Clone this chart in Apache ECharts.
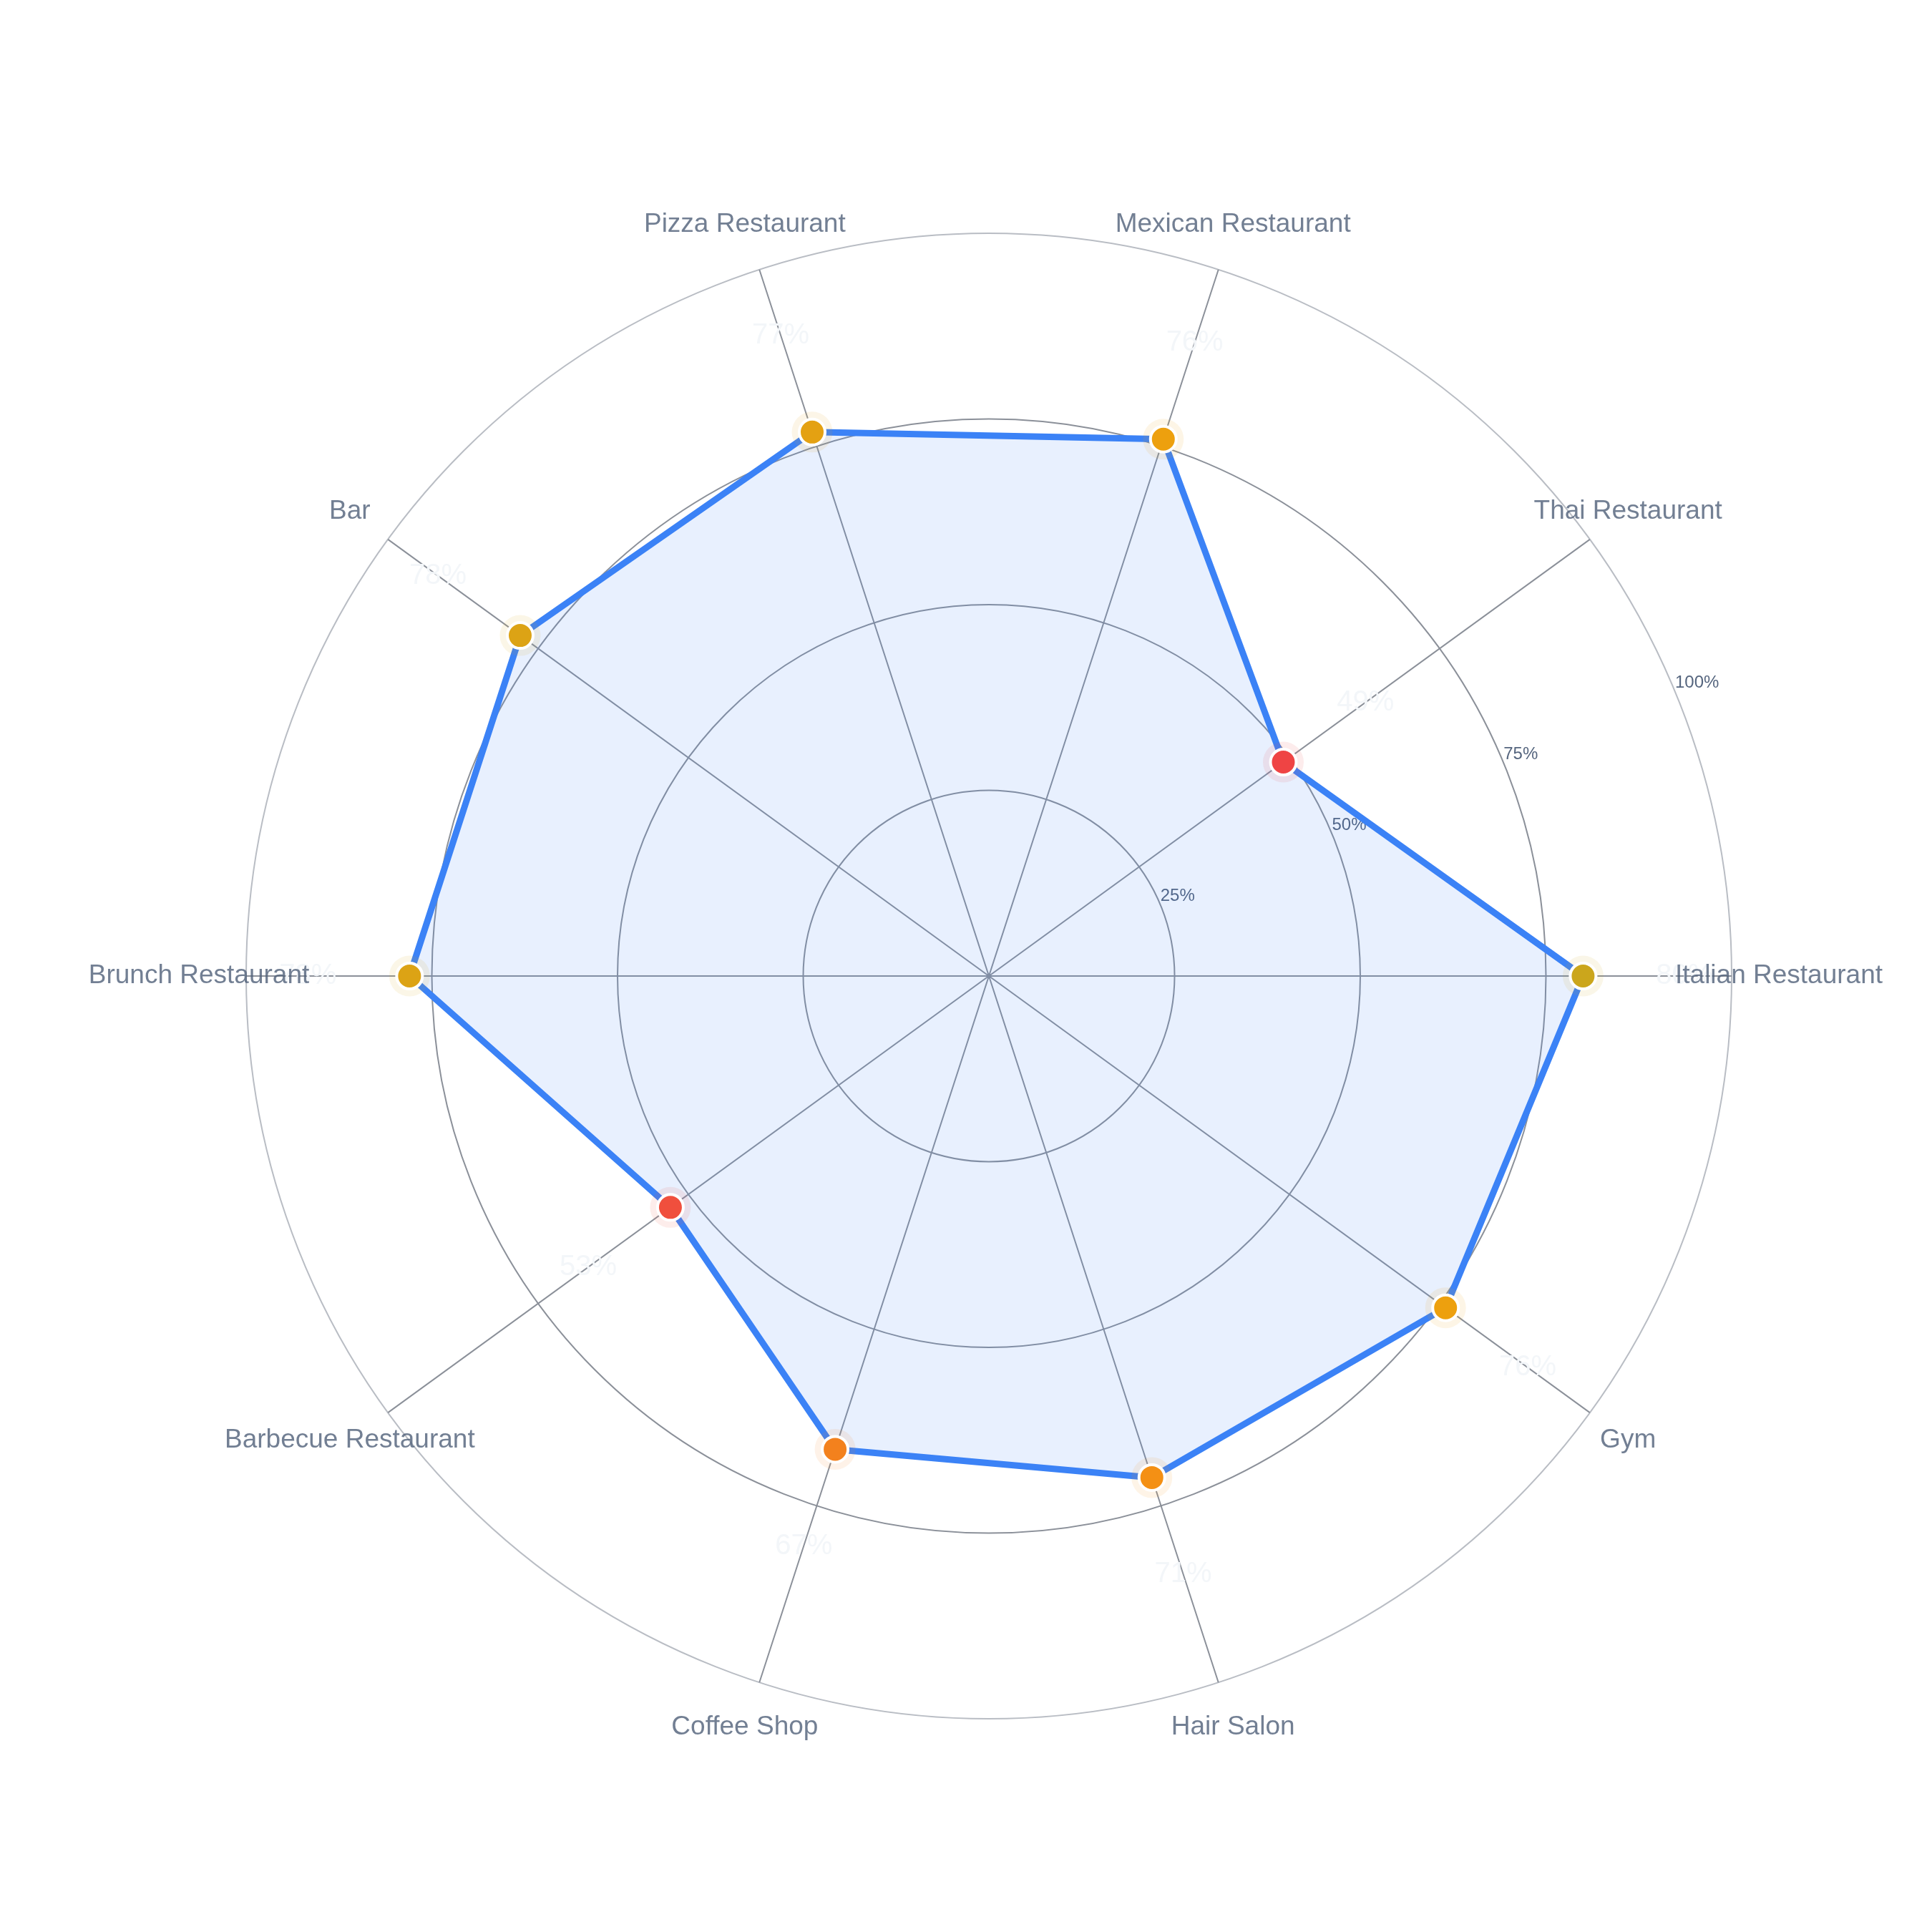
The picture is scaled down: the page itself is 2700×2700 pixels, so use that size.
<!DOCTYPE html>
<html>
<head>
<meta charset="utf-8">
<title>Category score radar</title>
<script src="https://cdn.jsdelivr.net/npm/echarts@6/dist/echarts.min.js"></script>
<style>
  html, body { margin: 0; padding: 0; background: #ffffff; }
  #chart { width: 2700px; height: 2700px; }
</style>
</head>
<body>
<div id="chart"></div>
<script>
// data, counter-clockwise from 3 o'clock
const categories = ['Italian Restaurant', 'Thai Restaurant', 'Mexican Restaurant', 'Pizza Restaurant', 'Bar',
  'Brunch Restaurant', 'Barbecue Restaurant', 'Coffee Shop', 'Hair Salon', 'Gym']
const values = [80, 49, 76, 77, 78, 78, 53, 67, 71, 76]
const radialTicks = [25, 50, 75, 100]

const FONT = '"Liberation Sans", Arial, sans-serif'
const CENTER = [1382, 1364]
const RADIUS = 1038
const step = 360 / categories.length
const labelGap = 142 // px, value label pushed outwards from its marker

// [radius, angle] pairs, first point repeated to close the outline
const linePoints = values.map((v, i) => [v, i * step])
linePoints.push([values[0], 360])

const markerPoints = values.map((v, i) => {
  const a = i * step * Math.PI / 180
  return {
    value: [v, i * step],
    label: { offset: [labelGap * Math.cos(a), -labelGap * Math.sin(a)] }
  }
})

// category names sit centred on a ring just outside the grid (polar 2)
const namePoints = categories.map((c, i) => ({ name: c, value: [100, i * step] }))

const hiddenAngle = (idx, start) => ({
  polarIndex: idx,
  type: 'value',
  min: 0,
  max: 360,
  startAngle: start,
  clockwise: false,
  axisLine: { show: false },
  axisTick: { show: false },
  axisLabel: { show: false },
  splitLine: { show: false }
})

const chart = echarts.init(document.getElementById('chart'))

const option = {
  backgroundColor: '#ffffff',
  animation: false,
  polar: [
    { center: CENTER, radius: RADIUS },
    { center: CENTER, radius: RADIUS },
    { center: CENTER, radius: 1104 }
  ],
  angleAxis: [
    {
      polarIndex: 0,
      type: 'value',
      min: 0,
      max: 360,
      interval: step,
      startAngle: 0,
      clockwise: false,
      axisLine: { show: false },
      axisTick: { show: false },
      axisLabel: { show: false },
      splitLine: { show: true, lineStyle: { color: '#8b9099', width: 2 } }
    },
    // tick labels run along the 22.5 degree line
    hiddenAngle(1, 22.5),
    hiddenAngle(2, 0)
  ],
  radiusAxis: [
    {
      polarIndex: 0,
      min: 0,
      max: 100,
      interval: 25,
      axisLine: { show: false },
      axisTick: { show: false },
      axisLabel: { show: false },
      splitLine: {
        show: true,
        lineStyle: { color: ['#8b9099', '#8b9099', '#8b9099', '#8b9099', '#b9bdc4'], width: 2 }
      }
    },
    {
      polarIndex: 1,
      min: 0,
      max: 100,
      interval: 25,
      axisLine: { show: false },
      axisTick: { show: false },
      splitLine: { show: false },
      axisLabel: {
        margin: 0,
        align: 'left',
        verticalAlign: 'bottom',
        fontSize: 24,
        fontFamily: FONT,
        color: '#55657e',
        formatter: (v) => (radialTicks.indexOf(v) >= 0 ? v + '%' : '')
      }
    },
    {
      polarIndex: 2,
      min: 0,
      max: 100,
      axisLine: { show: false },
      axisTick: { show: false },
      axisLabel: { show: false },
      splitLine: { show: false }
    }
  ],
  visualMap: {
    show: false,
    type: 'continuous',
    seriesIndex: [1, 2],
    dimension: 0,
    min: 25,
    max: 100,
    inRange: { color: ['#ef4444', '#ef4444', '#f59e0b', '#22c55e'] }
  },
  series: [
    {
      name: 'outline',
      type: 'line',
      coordinateSystem: 'polar',
      polarIndex: 0,
      data: linePoints,
      showSymbol: false,
      symbol: 'none',
      lineStyle: { color: '#3b82f6', width: 9 },
      areaStyle: { color: 'rgba(59,130,246,0.17)' },
      z: 2
    },
    {
      name: 'halo',
      type: 'scatter',
      coordinateSystem: 'polar',
      polarIndex: 0,
      data: values.map((v, i) => [v, i * step]),
      symbol: 'circle',
      symbolSize: 57,
      itemStyle: { opacity: 0.1 },
      z: 3
    },
    {
      name: 'markers',
      type: 'scatter',
      coordinateSystem: 'polar',
      polarIndex: 0,
      data: markerPoints,
      symbol: 'circle',
      symbolSize: 36,
      itemStyle: { borderColor: '#ffffff', borderWidth: 4, opacity: 1 },
      label: {
        show: true,
        position: 'inside',
        fontSize: 40,
        fontFamily: FONT,
        color: '#f3f6f9',
        formatter: (p) => p.value[0] + '%'
      },
      z: 4
    },
    {
      name: 'names',
      type: 'scatter',
      coordinateSystem: 'polar',
      polarIndex: 2,
      clip: false,
      silent: true,
      data: namePoints,
      symbolSize: 0,
      itemStyle: { color: 'transparent' },
      label: {
        show: true,
        position: 'inside',
        align: 'center',
        verticalAlign: 'middle',
        fontSize: 37,
        fontFamily: FONT,
        color: '#4f5f78',
        formatter: (p) => p.name
      },
      z: 5
    }
  ]
}

chart.setOption(option)
</script>
</body>
</html>
